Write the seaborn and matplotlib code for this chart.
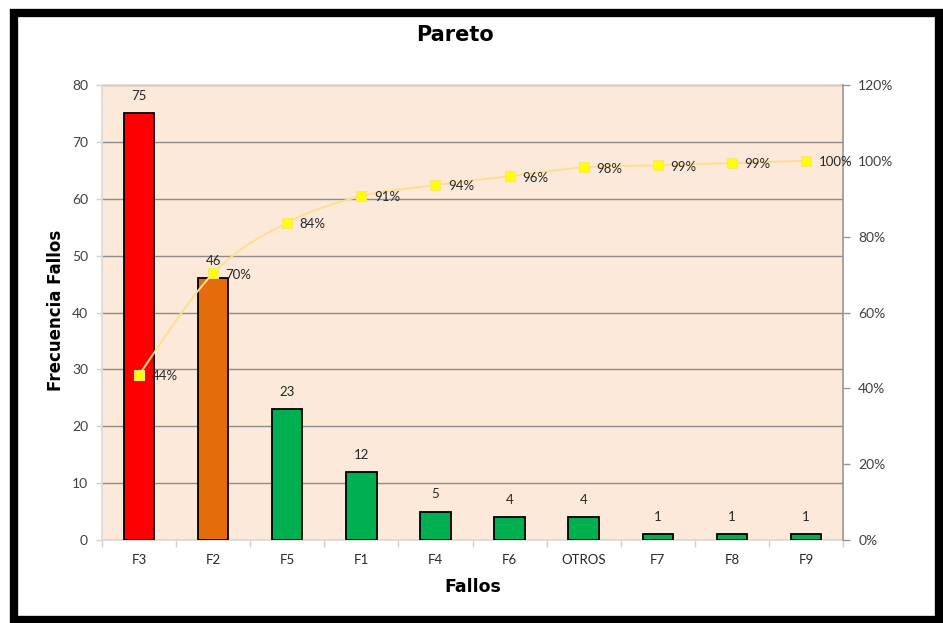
import numpy as np
import pandas as pd
import matplotlib
matplotlib.use("Agg")
import matplotlib.pyplot as plt
from matplotlib.patches import Rectangle, PathPatch
from matplotlib.path import Path
from matplotlib.ticker import FixedLocator, MultipleLocator
import seaborn as sns

# Failure counts sorted in Pareto order
categories = ["F3", "F2", "F5", "F1", "F4", "F6", "OTROS", "F7", "F8", "F9"]
counts = [75, 46, 23, 12, 5, 4, 4, 1, 1, 1]
bar_colors = ["#FF0000", "#E46C0A", "#00B050", "#00B050", "#00B050",
              "#00B050", "#00B050", "#00B050", "#00B050", "#00B050"]

df = pd.DataFrame({"fallo": categories, "frecuencia": counts})
df["pos"] = np.arange(len(df))
df["acumulado"] = df["frecuencia"].cumsum() / df["frecuencia"].sum() * 100

sns.set_theme(style="white")
plt.rcParams["font.family"] = ["Lato", "DejaVu Sans"]

W, H = 943, 623
fig = plt.figure(figsize=(W / 100, H / 100), dpi=100)
fig.patch.set_facecolor("white")
ax = fig.add_axes([102 / W, 83 / H, 741 / W, 455 / H])
ax.set_facecolor("#FDE9D9")

sns.barplot(data=df, x="fallo", y="frecuencia", hue="fallo",
            palette=bar_colors, saturation=1, legend=False, width=0.41,
            edgecolor="black", linewidth=1.3, ax=ax, zorder=3)

ax.set_ylim(0, 80)
ax.set_xlim(-0.5, len(categories) - 0.5)
ax.yaxis.set_major_locator(MultipleLocator(10))
ax.yaxis.grid(True, color="#8C8C8C", linewidth=1.0, zorder=0)
ax.set_axisbelow(True)

# Count labels above each bar
for p, v in zip(df["pos"], df["frecuencia"]):
    ax.annotate(f"{v}", (p, v), xytext=(0, 8), textcoords="offset points",
                ha="center", va="bottom", fontsize=9.5, color="#262626")

# Category ticks sit between bars
ax.xaxis.set_major_locator(FixedLocator(df["pos"].to_numpy()))
ax.set_xticks(df["pos"].to_numpy())
ax.set_xticklabels(categories)
ax.set_xticks(np.arange(-0.5, len(categories), 1.0), minor=True)
ax.tick_params(axis="x", which="major", length=0, pad=10, labelsize=9.5,
               labelcolor="#262626")
ax.tick_params(axis="x", which="minor", length=5, width=1, color="#D0D0D0",
               direction="out", bottom=True)
ax.tick_params(axis="y", length=4, width=1, color="#D0D0D0", direction="out",
               left=True, pad=6, labelsize=10, labelcolor="#404040")

for side in ("left", "bottom", "top"):
    ax.spines[side].set_color("#D9D9D9")
    ax.spines[side].set_linewidth(1.2)
ax.spines["right"].set_visible(False)
ax.set_xlabel("")
ax.set_ylabel("")

# Cumulative percentage on the secondary axis (markers)
ax2 = ax.twinx()
sns.lineplot(data=df, x="pos", y="acumulado", ax=ax2, sort=False,
             linestyle="none", marker="s", markersize=7,
             markerfacecolor="#FFFF00", markeredgecolor="#F5E67A",
             markeredgewidth=0.8, zorder=5)

# Smoothed connecting curve through the cumulative points
px = df["pos"].to_numpy(dtype=float)
py = df["acumulado"].to_numpy(dtype=float)
verts = [(px[0], py[0])]
codes = [Path.MOVETO]
for i in range(len(px) - 1):
    x0, y0 = (px[i - 1], py[i - 1]) if i > 0 else (px[i], py[i])
    x3, y3 = (px[i + 2], py[i + 2]) if i + 2 < len(px) else (px[i + 1], py[i + 1])
    c1 = (px[i] + (px[i + 1] - x0) / 6, py[i] + (py[i + 1] - y0) / 6)
    c2 = (px[i + 1] - (x3 - px[i]) / 6, py[i + 1] - (y3 - py[i]) / 6)
    verts += [c1, c2, (px[i + 1], py[i + 1])]
    codes += [Path.CURVE4] * 3
ax2.add_patch(PathPatch(Path(verts, codes), fill=False, edgecolor="#FBE08F",
                        linewidth=1.4, zorder=4))

ax2.set_ylim(0, 120)
ax2.set_xlim(-0.5, len(categories) - 0.5)
ax2.yaxis.set_major_locator(MultipleLocator(20))
ax2.set_yticklabels([f"{int(t)}%" for t in ax2.get_yticks()])
ax2.set_ylabel("")
ax2.set_xlabel("")
ax2.grid(False)
ax2.tick_params(axis="y", length=5, width=1, color="#969696", direction="out",
                right=True, pad=6, labelsize=10, labelcolor="#404040")
for side in ("left", "bottom", "top"):
    ax2.spines[side].set_visible(False)
ax2.spines["right"].set_color("#969696")
ax2.spines["right"].set_linewidth(1.2)

for p, v in zip(df["pos"], df["acumulado"]):
    ax2.annotate(f"{v:.0f}%", (p, v), xytext=(9, -1), textcoords="offset points",
                 ha="left", va="center", fontsize=9.5, color="#262626", zorder=6)

# Title and axis titles
bold = dict(family=["DejaVu Sans"], fontweight="bold", color="black")
fig.text(455 / W, 1 - 35 / H, "Pareto", ha="center", va="center",
         fontsize=15, **bold)
fig.text(473 / W, 1 - 587 / H, "Fallos", ha="center", va="center",
         fontsize=12.5, **bold)
fig.text(56 / W, 1 - 310 / H, "Frecuencia Fallos", ha="center", va="center",
         rotation=90, fontsize=12, **bold)

# Heavy black frame around the chart
fig.patches.append(Rectangle((14 / W, 3 / H), 925 / W, 607 / H,
                             transform=fig.transFigure, fill=False,
                             edgecolor="black", linewidth=6, zorder=10))

fig.savefig("out.png", dpi=100, facecolor="white")
